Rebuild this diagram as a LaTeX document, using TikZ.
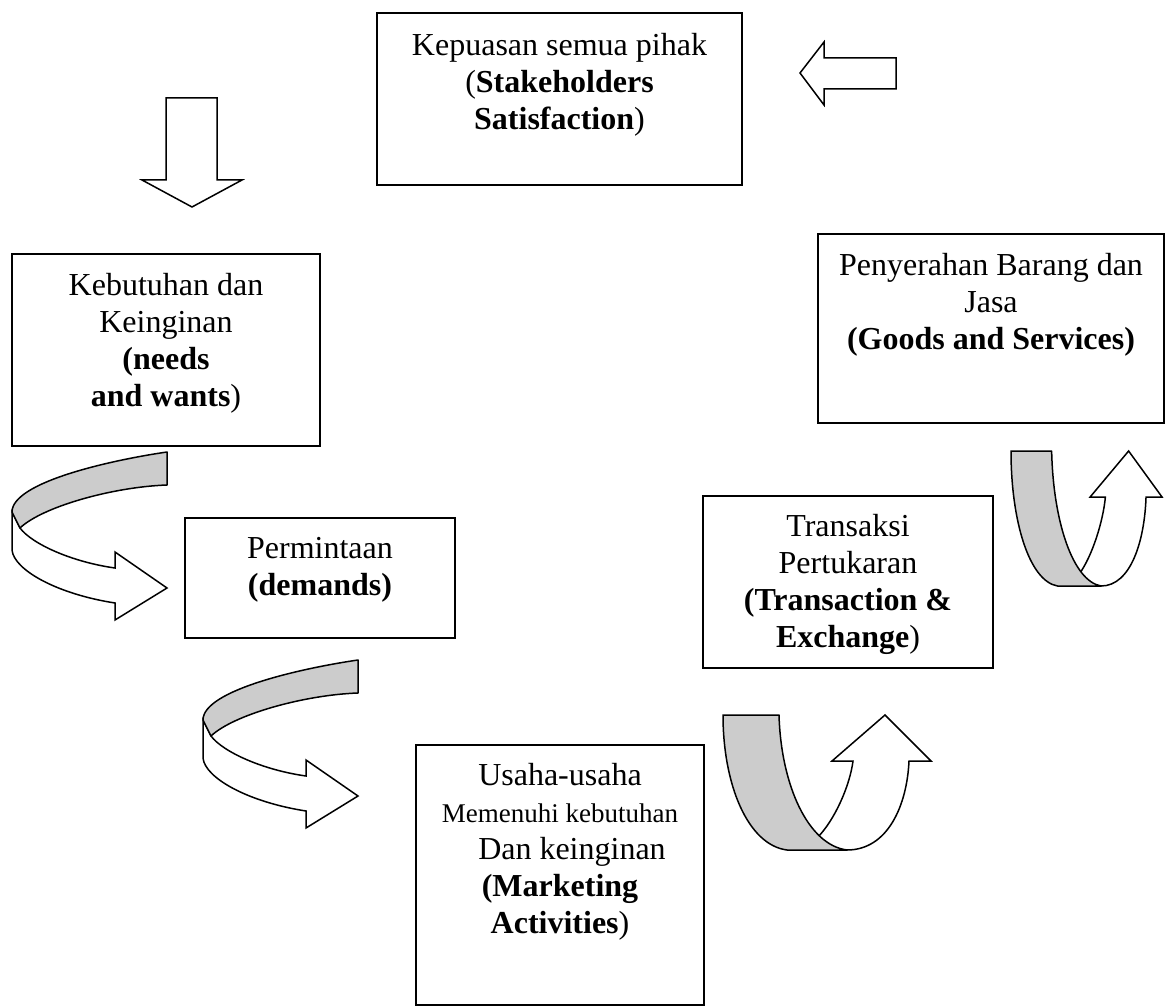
\documentclass[tikz,border=0pt]{standalone}
\usepackage{fontspec}
\setmainfont{Liberation Serif}
\definecolor{ribbon}{RGB}{204,204,204}
\tikzset{
  box/.style={draw, line width=1.7pt, inner sep=0pt},
  txt/.style={font=\fontsize{32}{37}\selectfont, align=center, inner sep=0pt, anchor=north},
  blockarrow/.style={draw, fill=white, line width=1.5pt, line join=miter},
  ribbonface/.style={draw, fill=ribbon, line width=1.5pt, line join=round},
  ribbonback/.style={draw, fill=white, line width=1.5pt, line join=miter},
}
\begin{document}
\begin{tikzpicture}[x=1pt,y=-1pt]
\fill[white] (0,0) rectangle (1173,1008);
\useasboundingbox (0,0) rectangle (1173,1008);

% boxes
\node[box, minimum width=365pt, minimum height=172pt] (kep) at (559.5,99) {};
\node[box, minimum width=308pt, minimum height=192pt] (keb) at (166,350) {};
\node[box, minimum width=270pt, minimum height=120pt] (perm) at (320,578) {};
\node[box, minimum width=288pt, minimum height=260pt] (usaha) at (560,875) {};
\node[box, minimum width=290pt, minimum height=172pt] (trans) at (848,582) {};
\node[box, minimum width=346pt, minimum height=189pt] (peny) at (991,328.5) {};

% texts
\node[txt] (kept) at (559.5,29) {\strut Kepuasan semua pihak\\(\textbf{Stakeholders}\\\textbf{Satisfaction})};
\node[txt] (kebt) at (166,269) {\strut Kebutuhan dan\\Keinginan\\\textbf{(needs}\\\textbf{and wants})};
\node[txt] (permt) at (320,532) {\strut Permintaan\\\textbf{(demands)}};
\node[txt] (usahat) at (560,759) {\strut Usaha-usaha\\{\fontsize{27}{37}\selectfont Memenuhi kebutuhan}\hspace*{18pt}\\\hspace*{24pt}Dan keinginan\\\textbf{(Marketing}\\\textbf{Activities})};
\node[txt] (transt) at (848,510) {\strut Transaksi\\Pertukaran\\\textbf{(Transaction \&}\\\textbf{Exchange})};
\node[txt] (penyt) at (991,249) {\strut Penyerahan Barang dan\\Jasa\\\textbf{(Goods and Services)}};

% straight block arrows
\draw[blockarrow] (166,98) -- (217,98) -- (217,180) -- (242,180) -- (192,207) -- (142,180) -- (166,180) -- cycle;
\draw[blockarrow] (896,58) -- (824,58) -- (824,42) -- (800,73) -- (824,105) -- (824,89) -- (896,89) -- cycle;

% curved sweep arrows (left side)
\foreach \ox/\oy in {12/452, 203/660}{
\begin{scope}[shift={(\ox,\oy)}]
 \draw[ribbonback] (0,60) -- (0,98) .. controls (2,118) and (45,142) .. (103,151) -- (103,168) -- (155,136) -- (103,100) -- (103,116) .. controls (60,110) and (20,92) .. (8,76) -- cycle;
 \draw[ribbonface] (155,0) -- (155,33) .. controls (100,35) and (30,55) .. (8,76) -- (0,60) .. controls (0,30) and (100,8) .. (155,0) -- cycle;
\end{scope}
}

% U-turn arrows (right side)
\foreach \ox/\oy/\sx in {723/715/1, 1011/451/0.726}{
\begin{scope}[shift={(\ox,\oy)}, xscale=\sx]
 \draw[ribbonback] (94,123) .. controls (112,105) and (127,70) .. (130,46) -- (109,46) -- (162,0) -- (208,46) -- (186,46) .. controls (184,90) and (165,135) .. (124,135) -- (80,135) -- cycle;
 \draw[ribbonface] (0,0) -- (56,0) .. controls (58,70) and (85,130) .. (124,135) -- (64,135) .. controls (25,130) and (0,70) .. (0,0) -- cycle;
\end{scope}
}
\end{tikzpicture}
\end{document}
